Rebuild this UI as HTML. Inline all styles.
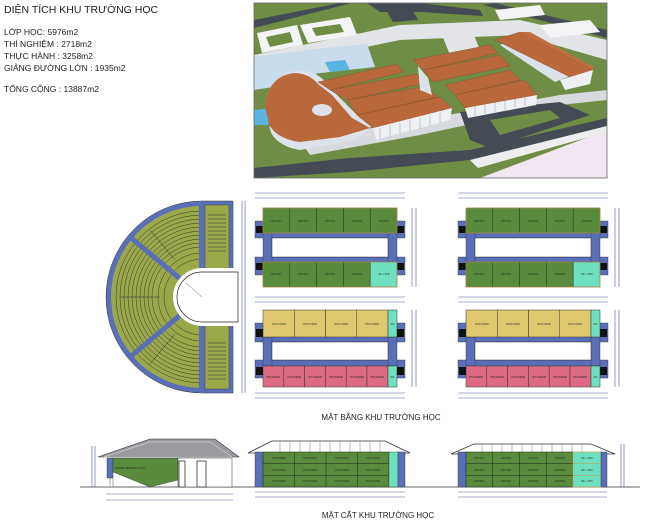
<!DOCTYPE html>
<html><head><meta charset="utf-8"><style>
html,body{margin:0;padding:0;background:#fff;}
svg{display:block;font-family:"Liberation Sans",sans-serif;}
.t{font-size:2.3px;fill:#222;text-anchor:middle}
.d{stroke:#4a5a9a;stroke-width:0.6;fill:none}
</style></head><body>
<svg width="650" height="524" viewBox="0 0 650 524" xmlns="http://www.w3.org/2000/svg">
<rect width="650" height="524" fill="#fff"/>
<g font-size="9.5" fill="#222">
<text x="4" y="13" font-size="10.5">DIỆN TÍCH KHU TRƯỜNG HỌC</text>
<text x="4" y="35" font-size="8.5">LỚP HỌC:  5976m2</text>
<text x="4" y="47" font-size="8.5">THÍ NGHIỆM : 2718m2</text>
<text x="4" y="59" font-size="8.5">THỰC HÀNH : 3258m2</text>
<text x="4" y="71" font-size="8.5">GIẢNG ĐƯỜNG LỚN : 1935m2</text>
<text x="4" y="92" font-size="8.5">TỔNG CỘNG : 13887m2</text>
</g>
<!-- photo -->
<g>
<clipPath id="pc"><rect x="254" y="3" width="353" height="175"/></clipPath>
<g clip-path="url(#pc)">
<rect x="254" y="3" width="353" height="175" fill="#6f8d45"/>
<!-- light paving bands -->
<polygon points="254,55 400,25 520,20 607,40 607,60 520,35 400,40 254,70" fill="#e2e4e8"/>
<polygon points="300,140 420,120 560,95 607,90 607,100 560,105 420,135 310,155" fill="#d8dadf"/>
<polygon points="440,30 470,25 480,50 450,55" fill="#e2e4e8"/>
<!-- roads -->
<polygon points="254,20 340,3 352,3 254,28" fill="#454b55"/>
<polygon points="367,3 420,3 480,10 483,16 420,12 380,12" fill="#454b55"/>
<polygon points="385,8 410,5 418,20 393,22" fill="#454b55"/>
<polygon points="483,5 495,3 607,30 607,38" fill="#454b55"/>
<polygon points="460,112 560,102 590,115 490,148 470,140" fill="#454b55"/>
<polygon points="490,120 550,110 560,118 500,135" fill="#6f8d45"/>
<polygon points="254,168 350,158 470,150 607,118 607,126 470,160 350,172 254,178" fill="#454b55"/>
<!-- pink ground bottom right -->
<polygon points="480,178 607,130 607,178" fill="#f2e6f2"/>
<polygon points="470,160 607,126 607,132 478,168" fill="#eeeeee"/>
<!-- white plazas -->
<polygon points="257,33 297,25 303,45 262,53" fill="#f4f4f6"/>
<polygon points="266,37 290,32 293,42 270,47" fill="#6f8d45"/>
<polygon points="300,25 350,17 357,35 308,43" fill="#f4f4f6"/>
<polygon points="312,28 340,24 344,32 316,36" fill="#6f8d45"/>
<polygon points="495,10 540,5 545,15 500,20" fill="#f4f4f6"/>
<polygon points="540,25 590,20 600,32 550,38" fill="#f4f4f6"/>
<!-- water -->
<polygon points="254,57 310,50 318,80 254,90" fill="#c8dcec"/>
<polygon points="305,50 367,44 375,67 312,74" fill="#c8dcec"/>
<polygon points="325,62 345,60 350,70 330,72" fill="#5ab4e0"/>
<polygon points="254,110 272,108 268,125 254,125" fill="#5ab4e0"/>
<!-- curved building -->
<path d="M 270 122 A 30 30 0 0 1 330 88 L 360 118 L 372 126 L 355 140 L 300 150 A 40 25 0 0 1 270 122 Z" fill="#dde2ea"/>
<path d="M 268 118 A 30 32 0 0 1 318 84 L 332 95 L 352 118 L 370 128 L 340 137 L 300 142 A 40 24 0 0 1 268 118 Z" fill="#b8683a"/>
<ellipse cx="322" cy="110" rx="10" ry="6" fill="#dde2ea"/>
<!-- group 1 roofs -->
<polygon points="318,82 397,64 403,72 330,90" fill="#b8683a" stroke="#8a4a28" stroke-width="0.4"/>
<polygon points="330,90 417,74 422,84 347,100" fill="#b8683a" stroke="#8a4a28" stroke-width="0.4"/>
<polygon points="347,100 427,86 437,97 357,115" fill="#b8683a" stroke="#8a4a28" stroke-width="0.4"/>
<polygon points="357,115 440,97 452,108 373,128" fill="#b8683a" stroke="#8a4a28" stroke-width="0.4"/>
<polygon points="373,128 452,108 450,120 376,140" fill="#eef0f4"/>
<g stroke="#7a8090" stroke-width="0.4"><line x1="380" y1="128" x2="380" y2="139"/><line x1="390" y1="125" x2="390" y2="137"/><line x1="400" y1="123" x2="400" y2="134"/><line x1="410" y1="120" x2="410" y2="131"/><line x1="420" y1="118" x2="420" y2="129"/><line x1="430" y1="115" x2="430" y2="126"/><line x1="440" y1="113" x2="440" y2="123"/></g>
<!-- group 2 -->
<polygon points="413,60 490,45 498,53 423,70" fill="#b8683a" stroke="#8a4a28" stroke-width="0.4"/>
<polygon points="423,70 500,55 510,66 433,82" fill="#b8683a" stroke="#8a4a28" stroke-width="0.4"/>
<polygon points="418,66 428,78 432,95 420,90" fill="#dde2ea"/>
<polygon points="445,85 510,70 520,80 455,95" fill="#b8683a" stroke="#8a4a28" stroke-width="0.4"/>
<polygon points="455,95 525,80 537,95 465,108" fill="#b8683a" stroke="#8a4a28" stroke-width="0.4"/>
<polygon points="465,108 537,95 536,105 468,118" fill="#eef0f4"/>
<g stroke="#7a8090" stroke-width="0.4"><line x1="475" y1="106" x2="475" y2="116"/><line x1="485" y1="104" x2="485" y2="114"/><line x1="495" y1="102" x2="495" y2="112"/><line x1="505" y1="100" x2="505" y2="110"/><line x1="515" y1="98" x2="515" y2="108"/><line x1="525" y1="97" x2="525" y2="106"/></g>
<!-- group 3 -->
<polygon points="500,45 520,35 580,72 555,82" fill="#dde2ea"/>
<polygon points="495,40 520,32 593,70 572,78" fill="#b8683a" stroke="#8a4a28" stroke-width="0.4"/>
<polygon points="520,32 530,32 595,68 593,70" fill="#c07040"/>
<polygon points="560,80 593,70 590,84 565,90" fill="#eef0f4"/>
</g>
<rect x="254" y="3" width="353" height="175" fill="none" stroke="#666" stroke-width="0.8"/>
</g>

<!-- amphitheater -->
<g>
<path d="M 202 201 A 96 96 0 0 0 202 393 L 233 393 L 233 201 Z" fill="#5b6fb8" stroke="#334" stroke-width="0.5"/>
<path d="M 202 206 A 91 91 0 0 0 202 388 Z" fill="#9aa84a"/>
<clipPath id="ac"><path d="M 202 206 A 91 91 0 0 0 202 388 Z"/></clipPath>
<g clip-path="url(#ac)" fill="none" stroke="#333" stroke-width="0.5">
<circle cx="202" cy="297" r="86"/><circle cx="202" cy="297" r="82"/><circle cx="202" cy="297" r="78"/><circle cx="202" cy="297" r="74"/><circle cx="202" cy="297" r="70"/><circle cx="202" cy="297" r="66"/><circle cx="202" cy="297" r="62"/><circle cx="202" cy="297" r="58"/><circle cx="202" cy="297" r="54"/><circle cx="202" cy="297" r="50"/><circle cx="202" cy="297" r="44"/><circle cx="202" cy="297" r="38"/>
<line x1="120" y1="297" x2="160" y2="297"/>
<line x1="150" y1="230" x2="175" y2="260"/>
<line x1="150" y1="364" x2="175" y2="334"/>
</g>
<rect x="199" y="201" width="6" height="71" fill="#5b6fb8"/>
<rect x="199" y="322" width="6" height="71" fill="#5b6fb8"/>
<line x1="202" y1="297" x2="130" y2="237" stroke="#5b6fb8" stroke-width="5"/>
<line x1="202" y1="297" x2="130" y2="357" stroke="#5b6fb8" stroke-width="5"/>
<rect x="205" y="205" width="24" height="66" fill="#9aa84a" stroke="#333" stroke-width="0.4"/>
<rect x="205" y="323" width="24" height="66" fill="#9aa84a" stroke="#333" stroke-width="0.4"/>
<g stroke="#333" stroke-width="0.5">
<line x1="208" y1="215" x2="226" y2="215"/><line x1="208" y1="219" x2="226" y2="219"/><line x1="208" y1="223" x2="226" y2="223"/><line x1="208" y1="227" x2="226" y2="227"/><line x1="208" y1="231" x2="226" y2="231"/><line x1="208" y1="235" x2="226" y2="235"/><line x1="208" y1="239" x2="226" y2="239"/><line x1="208" y1="243" x2="226" y2="243"/><line x1="208" y1="247" x2="226" y2="247"/><line x1="208" y1="251" x2="226" y2="251"/>
<line x1="208" y1="343" x2="226" y2="343"/><line x1="208" y1="347" x2="226" y2="347"/><line x1="208" y1="351" x2="226" y2="351"/><line x1="208" y1="355" x2="226" y2="355"/><line x1="208" y1="359" x2="226" y2="359"/><line x1="208" y1="363" x2="226" y2="363"/><line x1="208" y1="367" x2="226" y2="367"/><line x1="208" y1="371" x2="226" y2="371"/><line x1="208" y1="375" x2="226" y2="375"/><line x1="208" y1="379" x2="226" y2="379"/>
</g>
<path d="M 202 268 A 29 29 0 0 0 202 326 L 238 326 L 238 268 Z" fill="#fff"/>
<path d="M 202 272 A 25 25 0 0 0 202 322 L 238 322 L 238 272 Z" fill="#fff" stroke="#222" stroke-width="0.7"/>
<line x1="202" y1="297" x2="186" y2="283" stroke="#4a5a9a" stroke-width="0.5"/>
<line x1="242" y1="201" x2="242" y2="393" class="d"/>
<line x1="245" y1="201" x2="245" y2="393" class="d"/>
</g>

<g id="plans">
<g>
<g fill="#5b6fb8" stroke="#333" stroke-width="0.4">
<rect x="255" y="221" width="150" height="17"/>
<rect x="255" y="257" width="150" height="18"/>
<rect x="263" y="233" width="9" height="29"/><rect x="388" y="233" width="9" height="29"/>
</g>
<rect x="256" y="226" width="7" height="7" fill="#111"/><rect x="397" y="226" width="7" height="7" fill="#111"/>
<rect x="256" y="263" width="7" height="7" fill="#111"/><rect x="397" y="263" width="7" height="7" fill="#111"/>
<rect x="272" y="238" width="116" height="19" fill="#fff" stroke="#333" stroke-width="0.5"/>
<g fill="#5a8a3c" stroke="#2a3a1a" stroke-width="0.5">
<rect x="263" y="208" width="26.8" height="25"/><rect x="289.8" y="208" width="26.8" height="25"/><rect x="316.6" y="208" width="26.8" height="25"/><rect x="343.4" y="208" width="26.8" height="25"/><rect x="370.2" y="208" width="26.8" height="25"/>
<rect x="263" y="262" width="26.8" height="25"/><rect x="289.8" y="262" width="26.8" height="25"/><rect x="316.6" y="262" width="26.8" height="25"/><rect x="343.4" y="262" width="26.8" height="25"/>
</g>
<rect x="370.2" y="262" width="26.8" height="25" fill="#6ee0c0" stroke="#333" stroke-width="0.5"/>
<rect x="263" y="208" width="134" height="25" fill="none" stroke="#d09a50" stroke-width="0.6"/>
<rect x="263" y="262" width="134" height="25" fill="none" stroke="#d09a50" stroke-width="0.6"/>
<g class="t"><text x="276" y="222">LỚP HỌC</text><text x="303" y="222">LỚP HỌC</text><text x="330" y="222">LỚP HỌC</text><text x="357" y="222">LỚP HỌC</text><text x="384" y="222">LỚP HỌC</text>
<text x="276" y="275">LỚP HỌC</text><text x="303" y="275">LỚP HỌC</text><text x="330" y="275">LỚP HỌC</text><text x="357" y="275">LỚP HỌC</text><text x="384" y="275">WC + KHO</text></g>
<g fill="#5b6fb8" stroke="#333" stroke-width="0.4">
<rect x="255" y="323" width="150" height="19"/>
<rect x="255" y="360" width="150" height="18"/>
<rect x="263" y="337" width="9" height="29"/><rect x="388" y="337" width="9" height="29"/>
</g>
<rect x="256" y="329" width="7" height="8" fill="#111"/><rect x="397" y="329" width="7" height="8" fill="#111"/>
<rect x="256" y="367" width="7" height="8" fill="#111"/><rect x="397" y="367" width="7" height="8" fill="#111"/>
<rect x="272" y="342" width="116" height="18" fill="#fff" stroke="#333" stroke-width="0.5"/>
<g fill="#e0c870" stroke="#333" stroke-width="0.5">
<rect x="263" y="310" width="31.25" height="27"/><rect x="294.25" y="310" width="31.25" height="27"/><rect x="325.5" y="310" width="31.25" height="27"/><rect x="356.75" y="310" width="31.25" height="27"/>
</g>
<g fill="#dc6a84" stroke="#333" stroke-width="0.5">
<rect x="263" y="366" width="20.8" height="21"/><rect x="283.8" y="366" width="20.8" height="21"/><rect x="304.6" y="366" width="20.8" height="21"/><rect x="325.4" y="366" width="20.8" height="21"/><rect x="346.2" y="366" width="20.8" height="21"/><rect x="367" y="366" width="21" height="21"/>
</g>
<rect x="388" y="310" width="9" height="27" fill="#6ee0c0" stroke="#333" stroke-width="0.5"/>
<rect x="388" y="366" width="9" height="21" fill="#6ee0c0" stroke="#333" stroke-width="0.5"/>
<g class="t"><text x="279" y="325">THỰC HÀNH</text><text x="310" y="325">THỰC HÀNH</text><text x="341" y="325">THỰC HÀNH</text><text x="372" y="325">THỰC HÀNH</text><text x="392.5" y="325">WC</text>
<text x="273" y="378">THÍ NGHIỆM</text><text x="294" y="378">THÍ NGHIỆM</text><text x="315" y="378">THÍ NGHIỆM</text><text x="336" y="378">THÍ NGHIỆM</text><text x="357" y="378">THÍ NGHIỆM</text><text x="377" y="378">THÍ NGHIỆM</text><text x="392.5" y="378">WC</text></g>
<g class="d">
<line x1="255" y1="193" x2="405" y2="193"/><line x1="255" y1="198" x2="405" y2="198"/>
<line x1="255" y1="297" x2="405" y2="297"/><line x1="255" y1="302" x2="405" y2="302"/>
<line x1="255" y1="393" x2="405" y2="393"/><line x1="255" y1="398" x2="405" y2="398"/>
<line x1="412" y1="208" x2="412" y2="287"/><line x1="416" y1="208" x2="416" y2="287"/>
<line x1="412" y1="310" x2="412" y2="387"/><line x1="416" y1="310" x2="416" y2="387"/>
</g>
</g>
</g>
<use href="#plans" transform="translate(203,0)"/>

<text x="381" y="420" font-size="8" fill="#222" text-anchor="middle">MẶT BẰNG KHU TRƯỜNG HỌC</text>

<line x1="80" y1="487" x2="640" y2="487" stroke="#333" stroke-width="0.8"/>
<g>
<polygon points="98,457 150,439 215,439 239,457" fill="#9a9aa0" stroke="#333" stroke-width="0.6"/>
<polygon points="104,457 150,442 210,442 232,457" fill="none" stroke="#fff" stroke-width="0.4"/>
<rect x="107" y="458" width="6" height="20" fill="#5b6fb8" stroke="#333" stroke-width="0.4"/>
<polygon points="113,458 178,458 178,480 150,487 113,472" fill="#5a8a3c" stroke="#333" stroke-width="0.4"/>
<text x="130" y="469" class="t" style="font-size:3px">GIẢNG ĐƯỜNG LỚN</text>
<rect x="178" y="458" width="54" height="29" fill="#fff" stroke="#333" stroke-width="0.5"/>
<rect x="179" y="461" width="6" height="26" fill="#fff" stroke="#333" stroke-width="0.8"/>
<rect x="197" y="461" width="9" height="26" fill="#fff" stroke="#333" stroke-width="0.8"/>
<rect x="110" y="478" width="3" height="9" fill="#fff" stroke="#333" stroke-width="0.4"/>
<g class="d"><line x1="106" y1="494" x2="233" y2="494"/><line x1="106" y1="500" x2="233" y2="500"/><line x1="92" y1="446" x2="92" y2="487"/><line x1="95" y1="446" x2="95" y2="487"/></g>
</g>
<g>
<polygon points="248,453 272,441 385,441 410,453" fill="#fff" stroke="#333" stroke-width="0.8"/>
<g stroke="#666" stroke-width="0.4"><line x1="280" y1="441" x2="280" y2="452"/><line x1="290" y1="441" x2="290" y2="452"/><line x1="300" y1="441" x2="300" y2="452"/><line x1="310" y1="441" x2="310" y2="452"/><line x1="320" y1="441" x2="320" y2="452"/><line x1="330" y1="441" x2="330" y2="452"/><line x1="340" y1="441" x2="340" y2="452"/><line x1="350" y1="441" x2="350" y2="452"/><line x1="360" y1="441" x2="360" y2="452"/><line x1="370" y1="441" x2="370" y2="452"/><line x1="380" y1="441" x2="380" y2="452"/></g>
<rect x="255" y="452" width="8" height="35" fill="#5b6fb8" stroke="#333" stroke-width="0.4"/>
<rect x="263" y="452" width="126" height="35" fill="#5a8a3c" stroke="#222" stroke-width="0.5"/>
<g stroke="#222" stroke-width="0.5"><line x1="294.5" y1="452" x2="294.5" y2="487"/><line x1="326" y1="452" x2="326" y2="487"/><line x1="357.5" y1="452" x2="357.5" y2="487"/><line x1="263" y1="463.7" x2="389" y2="463.7"/><line x1="263" y1="475.3" x2="389" y2="475.3"/></g>
<rect x="389" y="452" width="9" height="35" fill="#6ee0c0" stroke="#333" stroke-width="0.4"/>
<rect x="398" y="452" width="7" height="35" fill="#5b6fb8" stroke="#333" stroke-width="0.4"/>
<g class="t"><text x="279" y="459">THỰC HÀNH</text><text x="310" y="459">THỰC HÀNH</text><text x="342" y="459">THỰC HÀNH</text><text x="373" y="459">THỰC HÀNH</text>
<text x="279" y="471">THỰC HÀNH</text><text x="310" y="471">THỰC HÀNH</text><text x="342" y="471">THỰC HÀNH</text><text x="373" y="471">THỰC HÀNH</text>
<text x="279" y="482">THỰC HÀNH</text><text x="310" y="482">THỰC HÀNH</text><text x="342" y="482">THỰC HÀNH</text><text x="373" y="482">THỰC HÀNH</text></g>
<g class="d"><line x1="255" y1="492" x2="405" y2="492"/><line x1="255" y1="497" x2="405" y2="497"/></g>
</g>
<g>
<polygon points="451,454 474,444 591,444 615,454" fill="#fff" stroke="#333" stroke-width="0.8"/>
<g stroke="#666" stroke-width="0.4"><line x1="482" y1="444" x2="482" y2="452"/><line x1="492" y1="444" x2="492" y2="452"/><line x1="502" y1="444" x2="502" y2="452"/><line x1="512" y1="444" x2="512" y2="452"/><line x1="522" y1="444" x2="522" y2="452"/><line x1="532" y1="444" x2="532" y2="452"/><line x1="542" y1="444" x2="542" y2="452"/><line x1="552" y1="444" x2="552" y2="452"/><line x1="562" y1="444" x2="562" y2="452"/><line x1="572" y1="444" x2="572" y2="452"/><line x1="582" y1="444" x2="582" y2="452"/></g>
<rect x="458" y="452" width="8" height="35" fill="#5b6fb8" stroke="#333" stroke-width="0.4"/>
<rect x="466" y="452" width="107" height="35" fill="#5a8a3c" stroke="#222" stroke-width="0.5"/>
<g stroke="#222" stroke-width="0.5"><line x1="492.7" y1="452" x2="492.7" y2="487"/><line x1="519.5" y1="452" x2="519.5" y2="487"/><line x1="546.2" y1="452" x2="546.2" y2="487"/><line x1="466" y1="463.7" x2="601" y2="463.7"/><line x1="466" y1="475.3" x2="601" y2="475.3"/></g>
<rect x="573" y="452" width="28" height="35" fill="#6ee0c0" stroke="#d09a50" stroke-width="0.6"/>
<g stroke="#d09a50" stroke-width="0.5"><line x1="573" y1="463.7" x2="601" y2="463.7"/><line x1="573" y1="475.3" x2="601" y2="475.3"/></g>
<rect x="601" y="452" width="6" height="35" fill="#5b6fb8" stroke="#333" stroke-width="0.4"/>
<g class="t"><text x="479" y="459">LỚP HỌC</text><text x="506" y="459">LỚP HỌC</text><text x="533" y="459">LỚP HỌC</text><text x="560" y="459">LỚP HỌC</text><text x="587" y="459">WC + KHO</text>
<text x="479" y="471">LỚP HỌC</text><text x="506" y="471">LỚP HỌC</text><text x="533" y="471">LỚP HỌC</text><text x="560" y="471">LỚP HỌC</text><text x="587" y="471">WC + KHO</text>
<text x="479" y="482">LỚP HỌC</text><text x="506" y="482">LỚP HỌC</text><text x="533" y="482">LỚP HỌC</text><text x="560" y="482">LỚP HỌC</text><text x="587" y="482">WC + KHO</text></g>
<g class="d"><line x1="458" y1="492" x2="607" y2="492"/><line x1="458" y1="497" x2="607" y2="497"/><line x1="621" y1="444" x2="621" y2="487"/><line x1="624" y1="444" x2="624" y2="487"/></g>
</g>

<text x="378" y="518" font-size="8" fill="#222" text-anchor="middle">MẶT CẮT KHU TRƯỜNG HỌC</text>
</svg>
</body></html>
